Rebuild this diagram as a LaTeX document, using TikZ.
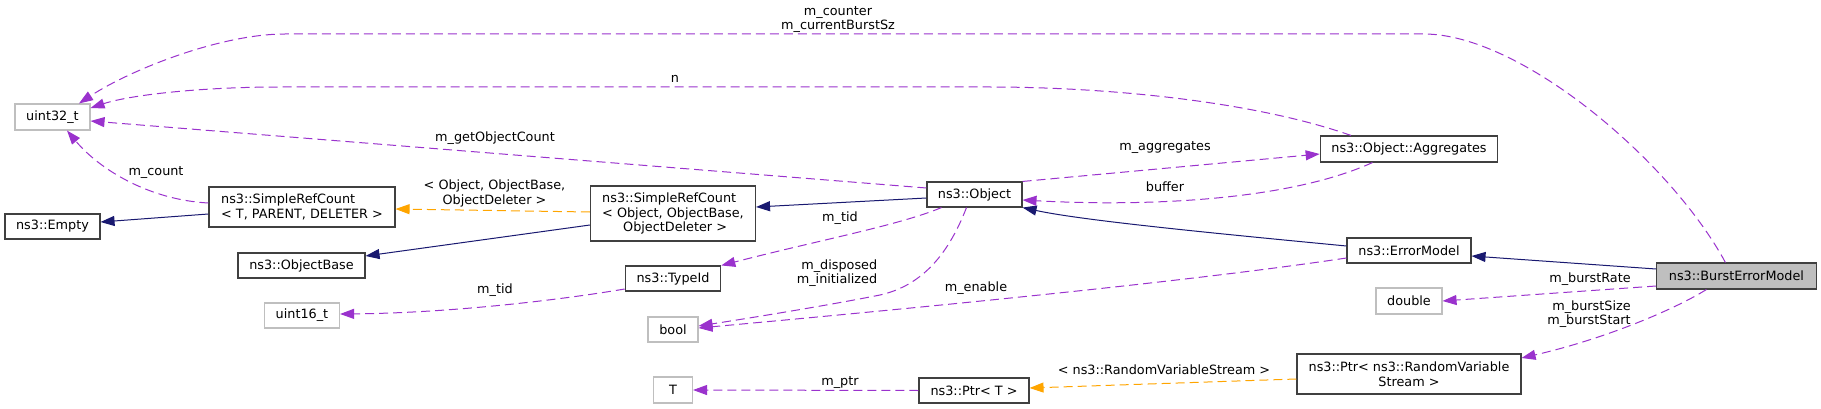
\documentclass[tikz,border=0pt]{standalone}
\usepackage{fontspec}
\setmainfont{DejaVu Sans}
\usetikzlibrary{arrows.meta}
\usetikzlibrary{positioning}
\definecolor{UseEdge}{HTML}{9A32CD}
\definecolor{BaseEdge}{HTML}{191970}
\definecolor{TmplEdge}{HTML}{FFA500}
\definecolor{ExtGray}{HTML}{BFBFBF}
\definecolor{BoxLine}{HTML}{404040}

\begin{document}
\begin{tikzpicture}[x=1pt, y=-1pt,
    every node/.style={font=\fontsize{12.8}{14.5}\selectfont, inner sep=0pt},
    cls/.style={draw=BoxLine, line width=1.1pt, minimum height=25pt},
    ext/.style={draw=ExtGray, line width=1.1pt, minimum height=26pt},
    usage/.style={UseEdge, line width=1pt, dash pattern=on 9pt off 5pt, -{Triangle[length=14pt,width=10pt]}},
    tmpl/.style={TmplEdge, line width=1pt, dash pattern=on 9pt off 5pt, -{Triangle[length=14pt,width=10pt]}},
    inherit/.style={BaseEdge, line width=1pt, -{Triangle[length=14pt,width=10pt]}}]
    \useasboundingbox (0,0) rectangle (1821,409);

    % classes
    \node[ext, minimum width=75pt] (u32) at (52.5,117) {uint32\_t};
    \node[cls, minimum width=95pt] (empty) at (52.5,226.5) {ns3::Empty};
    \node[cls, minimum width=186pt, minimum height=40pt, align=left] (srcT) at (302,207) {ns3::SimpleRefCount\\< T, PARENT, DELETER >};
    \node[cls, minimum width=127pt] (objbase) at (301.5,265.5) {ns3::ObjectBase};
    \node[ext, minimum width=75pt, minimum height=25pt] (u16) at (302,315.5) {uint16\_t};
    \node[cls, minimum width=165pt, minimum height=55pt, align=left] (srcObj) at (673,213.5) {ns3::SimpleRefCount\\< Object, ObjectBase,\\\hspace*{21pt}ObjectDeleter >};
    \node[cls, minimum width=95pt] (object) at (974.5,194.5) {ns3::Object};
    \node[cls, minimum width=95.5pt] (typeid) at (673,278.5) {ns3::TypeId};
    \node[ext, minimum width=50pt, minimum height=25pt] (bool) at (673,329.5) {bool};
    \node[ext, minimum width=39pt] (tnode) at (673,390) {T};
    \node[cls, minimum width=110pt] (ptrT) at (974,390.5) {ns3::Ptr< T >};
    \node[cls, minimum width=177.6pt, minimum height=26pt] (aggr) at (1409,149) {ns3::Object::Aggregates};
    \node[cls, minimum width=124pt] (errmodel) at (1409,250.5) {ns3::ErrorModel};
    \node[cls, minimum width=159.6pt, minimum height=26pt, fill=ExtGray] (burst) at (1736.4,276) {ns3::BurstErrorModel};
    \node[ext, minimum width=66pt] (double) at (1409,301) {double};
    \node[cls, minimum width=224pt, minimum height=40pt, align=center] (ptrRVS) at (1409,374) {ns3::Ptr< ns3::RandomVariable\\Stream >};

    % labels
    \node[align=center] (lcounter) at (838,19.5) {m\_counter\\m\_currentBurstSz};
    \node (ln) at (675,79) {n};
    \node (lgetcount) at (495,138) {m\_getObjectCount};
    \node (lcount) at (156,173) {m\_count};
    \node[align=center] (lsrcargs) at (494.5,193.5) {< Object, ObjectBase,\\ObjectDeleter >};
    \node (laggr) at (1165,148) {m\_aggregates};
    \node (lbuffer) at (1165,187) {buffer};
    \node (ltid) at (840,218) {m\_tid};
    \node[align=right] (lflags) at (837,273) {m\_disposed\\m\_initialized};
    \node (ltid2) at (495,290) {m\_tid};
    \node (lenable) at (976,288) {m\_enable};
    \node (lptr) at (840,383) {m\_ptr};
    \node (lrvs) at (1164,370) {< ns3::RandomVariableStream >};
    \node (lrate) at (1590,279) {m\_burstRate};
    \node[align=right] (lburst) at (1589,314) {m\_burstSize\\m\_burstStart};

    % inheritance
    \draw[inherit] ([yshift=-7pt]srcT.west) -- ([yshift=4.5pt]empty.east);
    \draw[inherit] ([yshift=-11.5pt]srcObj.west) -- ([yshift=9.5pt]objbase.east);
    \draw[inherit] ([yshift=-3.5pt]object.west) -- ([yshift=6.5pt]srcObj.east);
    \draw[inherit] ([yshift=4.5pt]errmodel.west) .. controls (1200,232) and (1080,220) .. (object.south east);
    \draw[inherit] ([yshift=7pt]burst.west) -- ([yshift=-5.5pt]errmodel.east);

    % templates
    \draw[tmpl] ([yshift=1.5pt]srcObj.west) -- ([yshift=-2pt]srcT.east);
    \draw[tmpl] ([yshift=-5pt]ptrRVS.west) -- ([yshift=2.5pt]ptrT.east);

    % members
    \draw[usage] ([xshift=-11pt]burst.north) .. controls (1670,160) and (1520,34) .. (1424,34) -- (285,34)
        .. controls (220,34) and (130,70) .. ([xshift=26.5pt]u32.north);
    \draw[usage] ([xshift=-58pt]aggr.north) .. controls (1250,100) and (1100,87) .. (990,87) -- (280,87)
        .. controls (200,87) and (130,95) .. ([yshift=9pt]u32.east);
    \draw[usage] ([yshift=6.5pt]object.west) -- ([yshift=-4pt]u32.east);
    \draw[usage] ([yshift=4pt]srcT.west) .. controls (150,200) and (100,170) .. ([xshift=14.5pt]u32.south);
    \draw[usage] ([xshift=-33pt]object.south) .. controls (900,225) and (820,240) .. (typeid.north east);
    \draw[usage] ([yshift=-10.5pt]typeid.west) .. controls (560,300) and (450,313) .. ([yshift=1.5pt]u16.east);
    \draw[usage] ([xshift=-8pt]object.south) .. controls (950,250) and (925,285) .. (880,295)
        .. controls (830,305) and (750,318) .. ([yshift=3.5pt]bool.east);
    \draw[usage] ([yshift=-7.5pt]errmodel.west) .. controls (1200,280) and (950,305) .. ([yshift=1.5pt]bool.east);
    \draw[usage] (object.north east) -- ([yshift=-5pt]aggr.west);
    \draw[usage] ([xshift=-36.5pt]aggr.south) .. controls (1290,200) and (1150,207) .. ([yshift=-5.5pt]object.east);
    \draw[usage] ([yshift=-10pt]burst.west) -- (double.east);
    \draw[usage] ([xshift=-30pt]burst.south) .. controls (1670,312) and (1600,340) .. ([yshift=16pt]ptrRVS.east);
    \draw[usage] (ptrT.west) -- (tnode.east);
\end{tikzpicture}
\end{document}
